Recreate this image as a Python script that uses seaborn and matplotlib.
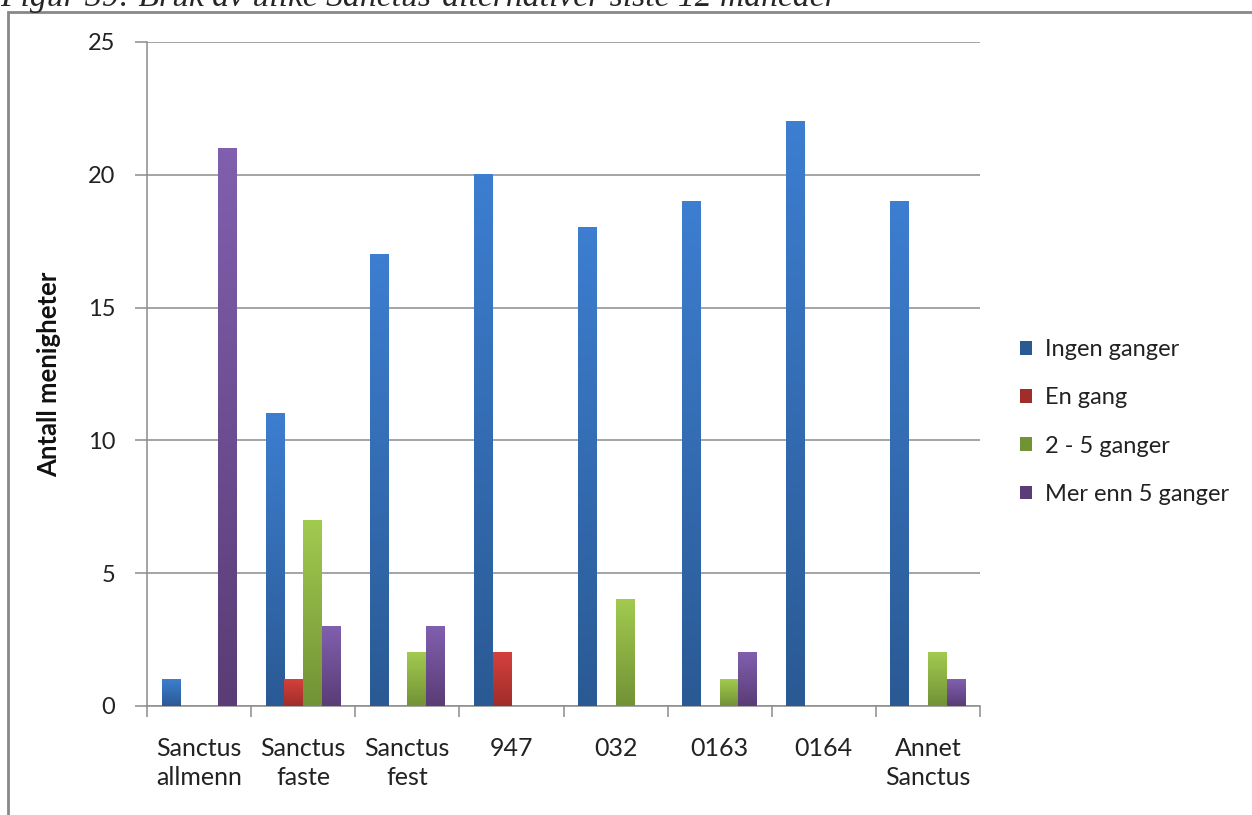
import numpy as np
import pandas as pd
import matplotlib
matplotlib.use("Agg")
import matplotlib.pyplot as plt
import seaborn as sns
from matplotlib.colors import LinearSegmentedColormap
from matplotlib.patches import Rectangle

# Survey counts per Sanctus alternative
categories = ["Sanctus\nallmenn", "Sanctus\nfaste", "Sanctus\nfest", "947", "032", "0163", "0164", "Annet\nSanctus"]
series_names = ["Ingen ganger", "En gang", "2 - 5 ganger", "Mer enn 5 ganger"]
ingen_ganger = [1, 11, 17, 20, 18, 19, 22, 19]
en_gang = [0, 1, 0, 2, 0, 0, 0, 0]
to_fem_ganger = [0, 7, 2, 0, 4, 1, 0, 2]
mer_enn_fem = [21, 3, 3, 0, 0, 2, 0, 1]
y_ticks = [0, 5, 10, 15, 20, 25]

series_values = [ingen_ganger, en_gang, to_fem_ganger, mer_enn_fem]
df = pd.DataFrame({
    "kategori": np.tile(categories, len(series_names)),
    "serie": np.repeat(series_names, len(categories)),
    "antall": np.concatenate(series_values),
})

# (top, bottom) gradient shades per series
shades = {
    "Ingen ganger": ("#3d7ed0", "#2a5a94"),
    "En gang": ("#d4403c", "#a02d2a"),
    "2 - 5 ganger": ("#a2ca4f", "#729236"),
    "Mer enn 5 ganger": ("#8060ae", "#5a3c76"),
}
palette = {k: v[0] for k, v in shades.items()}

sns.set_theme(style="white")
plt.rcParams["font.family"] = ["Lato", "DejaVu Sans"]

fig = plt.figure(figsize=(12.52, 8.15), dpi=100)
ax = fig.add_axes([147 / 1252, 1 - 706 / 815, (980 - 147) / 1252, (706 - 42) / 815])

sns.barplot(data=df, x="kategori", y="antall", hue="serie", order=categories,
            hue_order=series_names, palette=palette, width=0.72, dodge=True,
            saturation=1, ax=ax, legend=False, zorder=3, linewidth=0)

# Vertical gradient fill on each bar
n_cat = len(categories)
for i, name in enumerate(series_names):
    top, bottom = shades[name]
    cmap = LinearSegmentedColormap.from_list(name, [bottom, top])
    for patch in ax.patches[i * n_cat:(i + 1) * n_cat]:
        x, w, h = patch.get_x(), patch.get_width(), patch.get_height()
        if h <= 0:
            continue
        grad = np.linspace(0, 1, 128).reshape(-1, 1)
        ax.imshow(grad, cmap=cmap, origin="lower", aspect="auto",
                  extent=[x, x + w, 0, h], zorder=4, interpolation="bilinear")

ax.set_xlim(-0.5, n_cat - 0.5)
ax.set_ylim(0, 25)
ax.set_yticks(y_ticks)
ax.set_yticklabels([str(t) for t in y_ticks], fontsize=17, color="#222222")
ax.yaxis.grid(True, color="#8c8c8c", linewidth=1.1, zorder=0)
ax.set_axisbelow(True)

# Category labels centred, tick marks at group boundaries
ax.set_xticks(np.arange(n_cat))
ax.set_xticklabels(categories, fontsize=18, color="#222222", linespacing=1.33)
ax.set_xticks(np.arange(n_cat + 1) - 0.5, minor=True)
ax.tick_params(axis="x", which="major", length=0, pad=22)
ax.tick_params(axis="x", which="minor", length=8, width=1.1, color="#8c8c8c", direction="out", bottom=True)
ax.tick_params(axis="y", which="major", length=9, width=1.1, color="#8c8c8c", direction="out", left=True, pad=14)

for side in ["top", "right"]:
    ax.spines[side].set_visible(False)
for side in ["left", "bottom"]:
    ax.spines[side].set_color("#8c8c8c")
    ax.spines[side].set_linewidth(1.1)

ax.set_xlabel("")
ax.set_ylabel("Antall menigheter", fontsize=18.5, fontweight="bold", color="#111111")
ax.yaxis.set_label_coords(-(147 - 61) / (980 - 147), 0.5)

handles = [Rectangle((0, 0), 1, 1, facecolor=shades[n][1], edgecolor="none") for n in series_names]
fig.legend(handles, series_names, loc="upper left", bbox_to_anchor=(999 / 1252, 1 - 318 / 815),
           frameon=False, fontsize=17, handlelength=0.5, handleheight=0.5, handletextpad=0.55,
           labelspacing=1.15, labelcolor="#222222")

# Caption above the chart frame, partly cut off by the page edge
fig.text(0.0, 1 - 6 / 815, "Figur 39: Bruk av ulike Sanctus-alternativer siste 12 måneder",
         family="Liberation Serif", style="italic", fontsize=24.2, va="baseline", ha="left")

# Chart frame
fig.add_artist(Rectangle((8 / 1252, -0.1), 1.2, 1 - 12 / 815 + 0.1, transform=fig.transFigure,
                         facecolor="none", edgecolor="#888888", linewidth=2, zorder=0))

fig.savefig("out.png", dpi=100)
